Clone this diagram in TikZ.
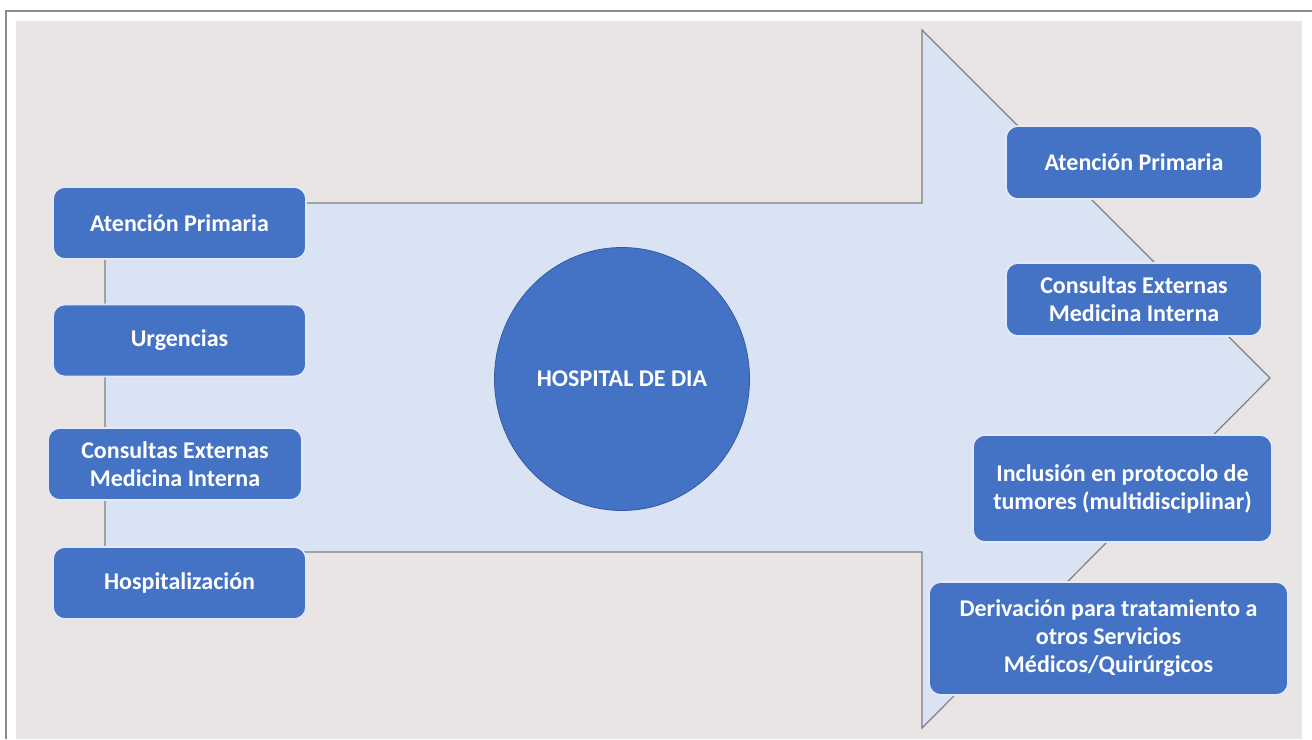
\documentclass[tikz,border=0pt]{standalone}
\usepackage{fontspec}
\setmainfont{Carlito}
\definecolor{bgc}{HTML}{E9E5E5}
\definecolor{arrowfill}{HTML}{DAE3F3}
\definecolor{edgegray}{HTML}{7F7F7F}
\definecolor{boxblue}{HTML}{4472C4}
\definecolor{framegray}{HTML}{8C8C8C}
\tikzset{
  bluebox/.style={draw=white!85!boxblue, line width=1.2pt, fill=boxblue, rounded corners=9pt,
    text=white, font=\bfseries\fontsize{18}{21}\selectfont, align=center, inner sep=0pt},
  hub/.style={ellipse, fill=boxblue, draw=boxblue!80!black, line width=0.6pt, text=white,
    font=\bfseries\fontsize{18}{21}\selectfont, inner sep=0pt},
  arrowshape/.style={fill=arrowfill, draw=edgegray, line width=0.9pt}
}
\usetikzlibrary{shapes.geometric}
\begin{document}
\begin{tikzpicture}[x=0.75pt,y=-0.75pt]
\useasboundingbox (0,0) rectangle (1312,739);
\fill[white] (0,0) rectangle (1312,739);
\fill[bgc] (16,21) rectangle (1302,739);
\draw[framegray, line width=1.8pt] (6,739) -- (6,11) -- (1312,11);
% big arrow
\draw[arrowshape] (105,203) -- (922,203) -- (922,30) -- (1270,378) -- (922,728) -- (922,552) -- (105,552) -- cycle;
% hub
\node[hub, minimum width=255*0.75pt, minimum height=263*0.75pt] (hd) at (622,379) {HOSPITAL DE DIA};
% left boxes
\node[bluebox, minimum width=253*0.75pt, minimum height=72*0.75pt] (l1) at (179.5,223) {Atención Primaria};
\node[bluebox, minimum width=253*0.75pt, minimum height=72*0.75pt] (l2) at (179.5,340.5) {Urgencias};
\node[bluebox, minimum width=254*0.75pt, minimum height=72*0.75pt] (l3) at (175,464) {Consultas Externas\\Medicina Interna};
\node[bluebox, minimum width=253*0.75pt, minimum height=72*0.75pt] (l4) at (179.5,583) {Hospitalización};
% right boxes
\node[bluebox, minimum width=256*0.75pt, minimum height=73*0.75pt] (r1) at (1134,162.5) {Atención Primaria};
\node[bluebox, minimum width=256*0.75pt, minimum height=73*0.75pt] (r2) at (1134,299.5) {Consultas Externas\\Medicina Interna};
\node[bluebox, minimum width=299*0.75pt, minimum height=107*0.75pt] (r3) at (1122.5,488.5) {Inclusión en protocolo de\\tumores (multidisciplinar)};
\node[bluebox, minimum width=359*0.75pt, minimum height=113*0.75pt] (r4) at (1108.5,638.5) {Derivación para tratamiento a\\otros Servicios\\Médicos/Quirúrgicos};
\end{tikzpicture}
\end{document}
